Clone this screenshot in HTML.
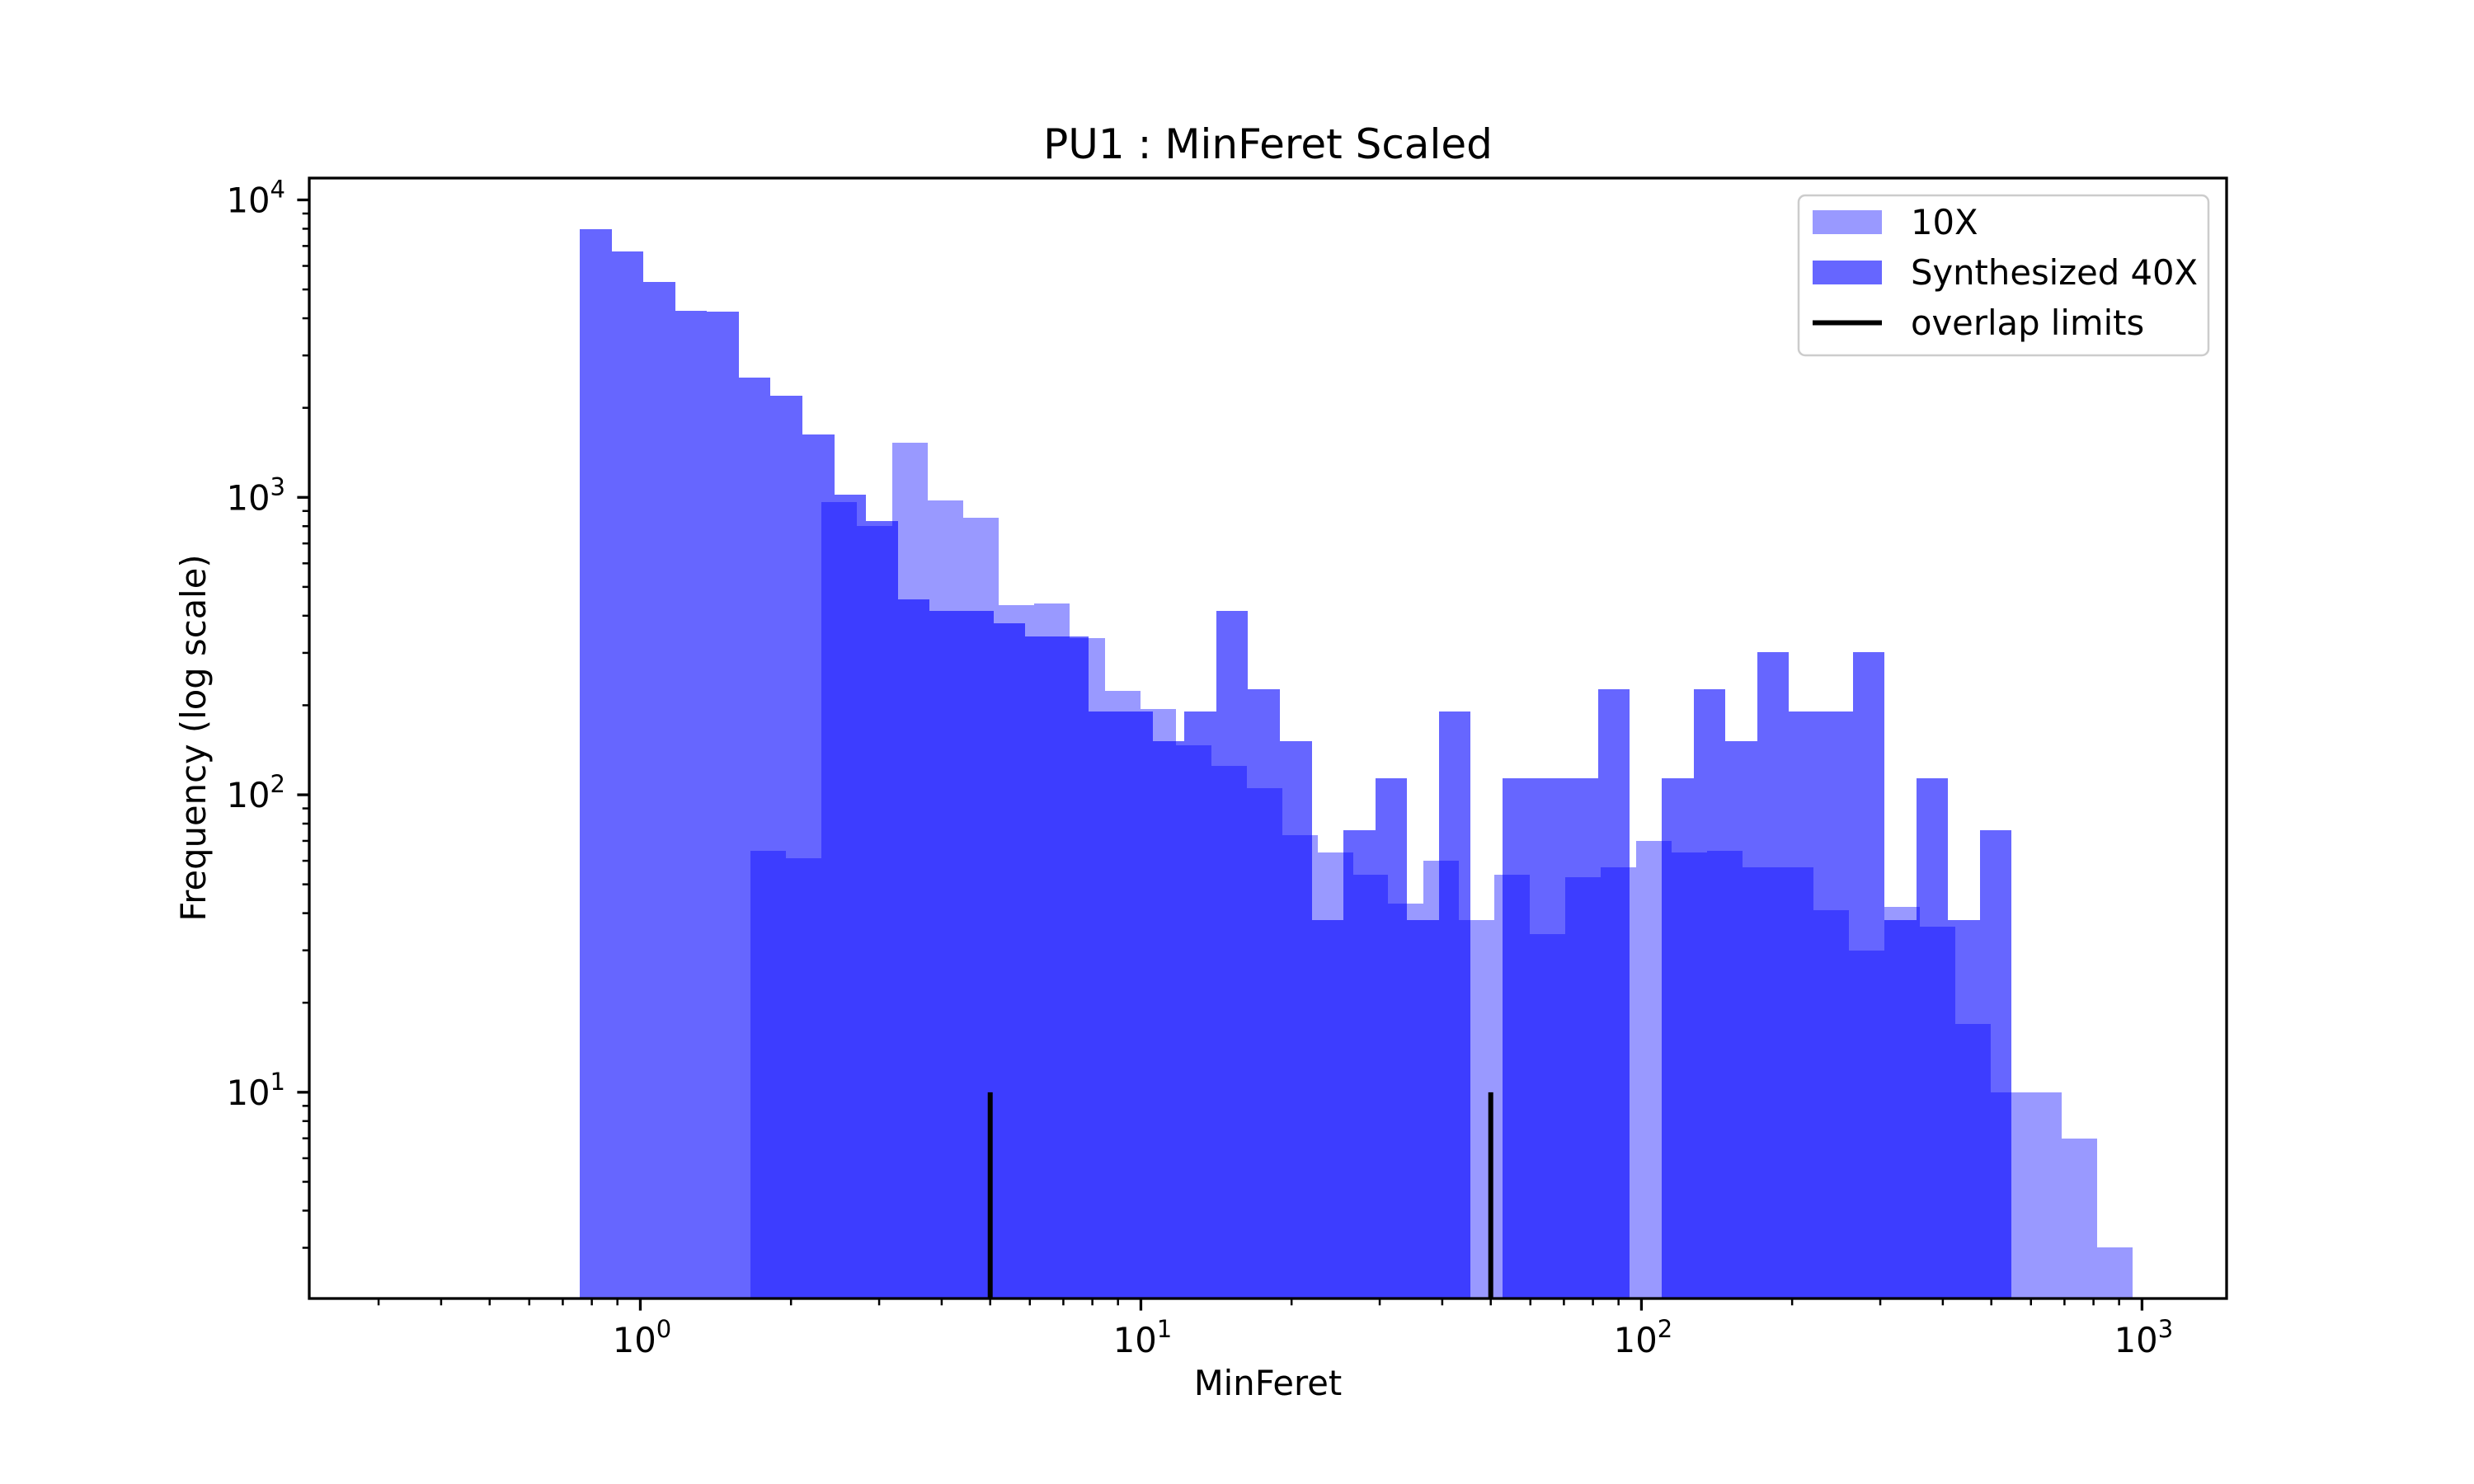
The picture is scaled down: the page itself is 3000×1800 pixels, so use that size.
<!DOCTYPE html>
<html><head><meta charset="utf-8"><style>
html,body{margin:0;padding:0;background:#fff;}
svg{display:block;font-family:"DejaVu Sans","Liberation Sans",sans-serif;}
</style></head><body>
<svg id="chart" width="3000" height="1800" viewBox="0 0 3000 1800" xmlns="http://www.w3.org/2000/svg">
<rect x="0" y="0" width="3000" height="1800" fill="#fff"/>
<defs><clipPath id="plotclip"><rect x="375" y="216" width="2325" height="1359"/></clipPath></defs>
<g id="bars" clip-path="url(#plotclip)" shape-rendering="crispEdges"></g>
<g id="lines"></g>
<g id="axes"></g>
<text x="1537.5" y="192" font-size="50" text-anchor="middle">PU1 : MinFeret Scaled</text>
<text x="1537.5" y="1692" font-size="41.7" text-anchor="middle">MinFeret</text>
<text x="0" y="0" font-size="41.7" text-anchor="middle" transform="translate(249,895) rotate(-90)">Frequency (log scale)</text>
<g>
<rect x="2181" y="237" width="497" height="194" rx="8" fill="#fff" fill-opacity="0.8" stroke="#cccccc" stroke-width="2.5"/>
<rect x="2198" y="255" width="84" height="29" fill="#0000ff" fill-opacity="0.4"/>
<text x="2317" y="284" font-size="41.7">10X</text>
<rect x="2198" y="316" width="84" height="29" fill="#0000ff" fill-opacity="0.6"/>
<text x="2317" y="345" font-size="41.7">Synthesized 40X</text>
<line x1="2198" y1="391.5" x2="2282" y2="391.5" stroke="#000" stroke-width="6"/>
<text x="2317" y="406" font-size="41.7">overlap limits</text>
</g>
</svg>
<script>
// data
const counts10X = [65,61,966,802,1530,977,853,435,441,336,223,194,147,125,105,73,64,54,43,60,38,54,34,53,57,70,64,65,57,57,41,30,42,36,17,10,10,7,3];
const counts40X = [7970,6730,5310,4230,4210,2530,2190,1630,1020,834,455,416,416,378,341,341,190,190,151,190,416,227,151,38,76,114,38,190,0,114,114,114,227,0,114,227,151,301,190,190,301,38,114,38,76];
const binRange10X = [0.2199, 2.9811]; // log10 edges
const binRange40X = [-0.1211, 2.7398];
const overlapLimits = [5, 50];
const overlapTop = 10;
const xTickLabels = ["0","1","2","3"];
const yTickLabels = ["1","2","3","4"];

const NS="http://www.w3.org/2000/svg";
const PL=375, PR=2700, PT=216, PB=1575;
const XMIN=-0.6614, XMAX=3.169, YMIN=0.3066, YMAX=4.0734;
function xs(v){return PL+(Math.log10(v)-XMIN)/(XMAX-XMIN)*(PR-PL);}
function xl(l){return PL+(l-XMIN)/(XMAX-XMIN)*(PR-PL);}
function ys(v){return PB-(Math.log10(v)-YMIN)/(YMAX-YMIN)*(PB-PT);}
function mk(tag,parent){const e=document.createElementNS(NS,tag);parent.appendChild(e);return e;}

const bars=document.getElementById('bars');
function drawHist(counts,range,op,name){
  const w=(range[1]-range[0])/counts.length;
  counts.forEach((c,i)=>{
    if(c<=0)return;
    const x0=Math.round(xl(range[0]+i*w)), x1=Math.round(xl(range[0]+(i+1)*w));
    const y=Math.round(ys(c));
    const r=mk('rect',bars);
    r.setAttribute('x',x0);r.setAttribute('width',x1-x0);
    r.setAttribute('y',y);r.setAttribute('height',Math.max(0,PB+5-y));
    r.setAttribute('fill','#0000ff');r.setAttribute('fill-opacity',op);
    
    
  });
}
drawHist(counts10X,binRange10X,0.4,'10x');
drawHist(counts40X,binRange40X,0.6,'40x');

const lines=document.getElementById('lines');
overlapLimits.forEach((v,i)=>{
  const l=mk('line',lines);
  l.setAttribute('x1',xs(v));l.setAttribute('x2',xs(v));
  l.setAttribute('y1',PB);l.setAttribute('y2',ys(overlapTop));
  l.setAttribute('stroke','#000');l.setAttribute('stroke-width','6');
  
  
});

const axes=document.getElementById('axes');
const frame=mk('rect',axes);
frame.setAttribute('x',PL);frame.setAttribute('y',PT);frame.setAttribute('width',PR-PL);frame.setAttribute('height',PB-PT);
frame.setAttribute('fill','none');frame.setAttribute('stroke','#000');frame.setAttribute('stroke-width','3.3');



function tick(x1,y1,x2,y2,w,name){
  const t=mk('line',axes);
  t.setAttribute('x1',x1);t.setAttribute('y1',y1);t.setAttribute('x2',x2);t.setAttribute('y2',y2);
  t.setAttribute('stroke','#000');t.setAttribute('stroke-width',w);
  
  
}
function powLabel(x,y,exp,anchor,name){
  const t=mk('text',axes);
  t.setAttribute('x',x);t.setAttribute('y',y);t.setAttribute('font-size','41.7');t.setAttribute('text-anchor',anchor);
  
  
  const a=mk('tspan',t);a.textContent='10';
  const b=mk('tspan',t);b.textContent=exp;b.setAttribute('font-size','29');b.setAttribute('dy','-18');
}
// x ticks
for(let k=-1;k<=3;k++){
  for(let m=1;m<10;m++){
    const l=k+Math.log10(m);
    if(l<XMIN||l>XMAX)continue;
    const x=xl(l);
    if(m===1) tick(x,PB,x,PB+14.6,3.3,'x-major-tick');
    else tick(x,PB,x,PB+8.3,2.5,'x-minor-tick');
  }
}
xTickLabels.forEach(s=>{powLabel(xl(+s)+2,1640,s,'middle','x-tick-label-'+s);});
// y ticks
for(let k=0;k<=4;k++){
  for(let m=1;m<10;m++){
    const l=k+Math.log10(m);
    if(l<YMIN||l>YMAX)continue;
    const y=PB-(l-YMIN)/(YMAX-YMIN)*(PB-PT);
    if(m===1) tick(PL-14.6,y,PL,y,3.3,'y-major-tick');
    else tick(PL-8.3,y,PL,y,2.5,'y-minor-tick');
  }
}
yTickLabels.forEach(s=>{powLabel(346,ys(Math.pow(10,+s))+15,s,'end','y-tick-label-'+s);});
</script>
</body></html>
